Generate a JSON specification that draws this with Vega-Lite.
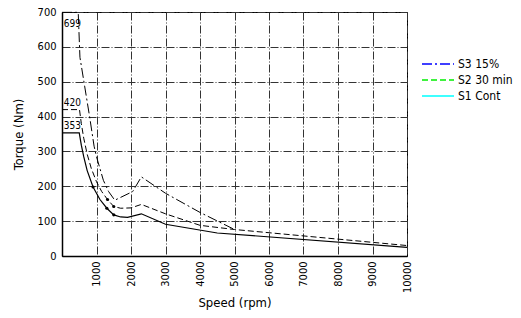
{
  "$schema": "https://vega.github.io/schema/vega-lite/v6.json",
  "width": 345,
  "height": 244,
  "autosize": {"type": "none"},
  "padding": {"left": 62, "top": 12, "right": 114, "bottom": 62},
  "background": "white",
  "config": {
    "font": "DejaVu Sans Condensed",
    "view": {"stroke": "black", "strokeWidth": 1},
    "axis": {
      "labelFont": "DejaVu Sans Condensed",
      "titleFont": "DejaVu Sans Condensed",
      "labelFontSize": 11,
      "titleFontSize": 13,
      "titleFontWeight": "normal",
      "labelColor": "black",
      "titleColor": "black",
      "domainColor": "black",
      "domainWidth": 1.5,
      "ticks": false,
      "gridColor": "#333333",
      "gridDash": [8, 2, 1, 2],
      "gridWidth": 1,
      "gridOpacity": 1,
      "labelOverlap": false
    },
    "legend": {
      "labelFont": "DejaVu Sans Condensed",
      "labelFontSize": 12,
      "labelColor": "black"
    }
  },
  "datasets": {
    "curves": [
      {"series": "S1 Cont", "speed": 0, "torque": 353},
      {"series": "S1 Cont", "speed": 500, "torque": 353},
      {"series": "S1 Cont", "speed": 560, "torque": 318},
      {"series": "S1 Cont", "speed": 630, "torque": 285},
      {"series": "S1 Cont", "speed": 730, "torque": 245},
      {"series": "S1 Cont", "speed": 900, "torque": 198},
      {"series": "S1 Cont", "speed": 1100, "torque": 162},
      {"series": "S1 Cont", "speed": 1300, "torque": 137},
      {"series": "S1 Cont", "speed": 1500, "torque": 118},
      {"series": "S1 Cont", "speed": 1700, "torque": 112},
      {"series": "S1 Cont", "speed": 1900, "torque": 111},
      {"series": "S1 Cont", "speed": 2300, "torque": 121},
      {"series": "S1 Cont", "speed": 3000, "torque": 91},
      {"series": "S1 Cont", "speed": 4500, "torque": 66},
      {"series": "S1 Cont", "speed": 10000, "torque": 25},
      {"series": "S2 30 min", "speed": 0, "torque": 420},
      {"series": "S2 30 min", "speed": 507, "torque": 420},
      {"series": "S2 30 min", "speed": 560, "torque": 380},
      {"series": "S2 30 min", "speed": 630, "torque": 338},
      {"series": "S2 30 min", "speed": 730, "torque": 292},
      {"series": "S2 30 min", "speed": 850, "torque": 251},
      {"series": "S2 30 min", "speed": 1000, "torque": 213},
      {"series": "S2 30 min", "speed": 1150, "torque": 185},
      {"series": "S2 30 min", "speed": 1320, "torque": 162},
      {"series": "S2 30 min", "speed": 1500, "torque": 142},
      {"series": "S2 30 min", "speed": 1700, "torque": 137},
      {"series": "S2 30 min", "speed": 2000, "torque": 138},
      {"series": "S2 30 min", "speed": 2300, "torque": 148},
      {"series": "S2 30 min", "speed": 3000, "torque": 121},
      {"series": "S2 30 min", "speed": 4000, "torque": 88},
      {"series": "S2 30 min", "speed": 5000, "torque": 76},
      {"series": "S2 30 min", "speed": 10000, "torque": 30},
      {"series": "S3 15%", "speed": 0, "torque": 699},
      {"series": "S3 15%", "speed": 470, "torque": 699},
      {"series": "S3 15%", "speed": 520, "torque": 570},
      {"series": "S3 15%", "speed": 660, "torque": 485},
      {"series": "S3 15%", "speed": 800, "torque": 400},
      {"series": "S3 15%", "speed": 930, "torque": 315},
      {"series": "S3 15%", "speed": 1000, "torque": 285},
      {"series": "S3 15%", "speed": 1200, "torque": 217},
      {"series": "S3 15%", "speed": 1350, "torque": 185},
      {"series": "S3 15%", "speed": 1530, "torque": 160},
      {"series": "S3 15%", "speed": 2050, "torque": 185},
      {"series": "S3 15%", "speed": 2300, "torque": 227},
      {"series": "S3 15%", "speed": 3000, "torque": 180},
      {"series": "S3 15%", "speed": 4000, "torque": 125},
      {"series": "S3 15%", "speed": 5000, "torque": 76}
    ],
    "dots": [
      {"speed": 900, "torque": 198},
      {"speed": 1300, "torque": 137},
      {"speed": 1500, "torque": 118},
      {"speed": 1320, "torque": 162},
      {"speed": 1500, "torque": 142}
    ],
    "labels": [
      {"label": "699", "speed": 50, "torque": 699, "pos": "below"},
      {"label": "420", "speed": 50, "torque": 420, "pos": "above"},
      {"label": "353", "speed": 50, "torque": 353, "pos": "above"}
    ]
  },
  "encoding": {
    "x": {"field": "speed", "type": "quantitative", "scale": {"domain": [0, 10000], "nice": false},
      "axis": {"values": [1000, 2000, 3000, 4000, 5000, 6000, 7000, 8000, 9000, 10000], "format": "d", "labelAngle": -90, "labelPadding": 5, "title": "Speed (rpm)", "titlePadding": 4, "labelFlush": false}},
    "y": {"field": "torque", "type": "quantitative", "scale": {"domain": [0, 700], "nice": false},
      "axis": {"values": [0, 100, 200, 300, 400, 500, 600, 700], "format": "d", "labelPadding": 6, "title": "Torque (Nm)", "titlePadding": 12, "labelFlush": false}}
  },
  "layer": [
    {
      "data": {"name": "curves"},
      "transform": [{"filter": "datum.series === 'S1 Cont'"}],
      "mark": {"type": "line", "color": "black", "strokeWidth": 1.2},
      "encoding": {"order": {"field": "speed", "type": "quantitative"}}
    },
    {
      "data": {"name": "curves"},
      "transform": [{"filter": "datum.series === 'S2 30 min'"}],
      "mark": {"type": "line", "color": "black", "strokeWidth": 1, "strokeDash": [6, 3]},
      "encoding": {"order": {"field": "speed", "type": "quantitative"}}
    },
    {
      "data": {"name": "curves"},
      "transform": [{"filter": "datum.series === 'S3 15%'"}],
      "mark": {"type": "line", "color": "black", "strokeWidth": 1, "strokeDash": [10, 3, 2, 3]},
      "encoding": {"order": {"field": "speed", "type": "quantitative"}}
    },
    {
      "data": {"name": "curves"},
      "mark": {"type": "line", "opacity": 0},
      "encoding": {
        "order": {"field": "speed", "type": "quantitative"},
        "color": {"field": "series", "type": "nominal",
          "scale": {"domain": ["S3 15%", "S2 30 min", "S1 Cont"], "range": ["#0000ff", "#00ee00", "#00ffff"]},
          "legend": {"title": null, "orient": "none", "legendX": 367, "legendY": 43, "symbolType": "M-2,0H2", "symbolSize": 256, "symbolOpacity": 1, "symbolStrokeWidth": 1.5, "labelOffset": 11, "rowPadding": 1}},
        "strokeDash": {"field": "series", "type": "nominal",
          "scale": {"domain": ["S3 15%", "S2 30 min", "S1 Cont"], "range": [[10, 3, 2, 3], [6, 3], [1, 0]]},
          "legend": {"title": null, "orient": "none", "legendX": 367, "legendY": 43, "symbolType": "M-2,0H2", "symbolSize": 256, "symbolOpacity": 1, "symbolStrokeWidth": 1.5, "labelOffset": 11, "rowPadding": 1}}
      }
    },
    {
      "data": {"name": "dots"},
      "mark": {"type": "circle", "color": "black", "size": 10, "opacity": 1}
    },
    {
      "data": {"name": "labels"},
      "transform": [{"filter": "datum.pos === 'above'"}],
      "mark": {"type": "text", "align": "left", "baseline": "bottom", "dy": -2, "fontSize": 10, "color": "black"},
      "encoding": {"text": {"field": "label"}}
    },
    {
      "data": {"name": "labels"},
      "transform": [{"filter": "datum.pos === 'below'"}],
      "mark": {"type": "text", "align": "left", "baseline": "top", "dy": 7, "fontSize": 10, "color": "black"},
      "encoding": {"text": {"field": "label"}}
    }
  ]
}
